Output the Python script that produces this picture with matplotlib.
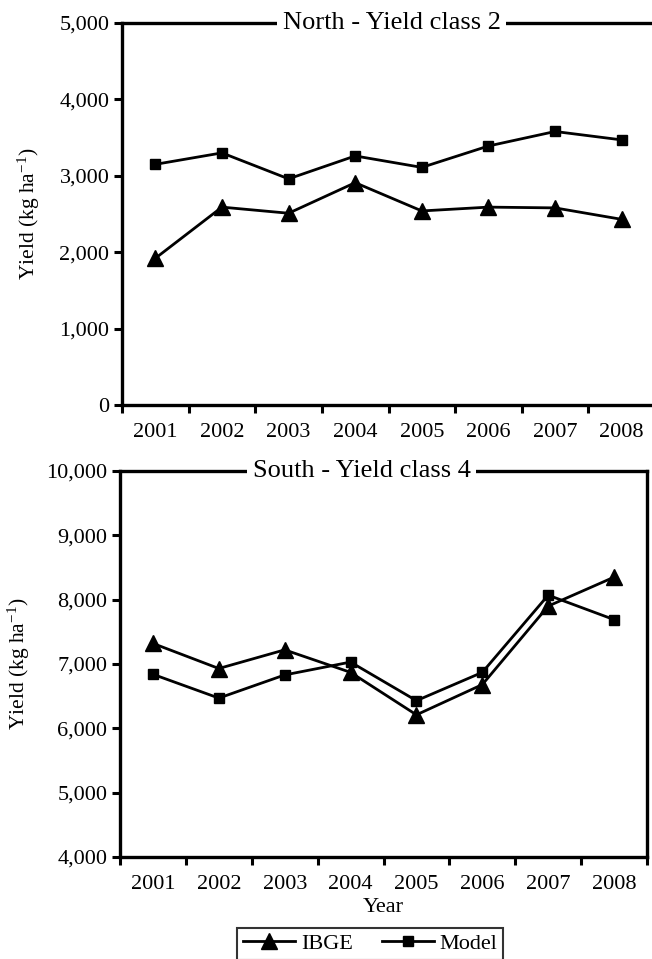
import matplotlib
matplotlib.use("Agg")
import matplotlib.pyplot as plt
from matplotlib.ticker import FuncFormatter, FixedLocator
import numpy as np

plt.rcParams['font.family'] = ['Liberation Serif', 'DejaVu Serif']
plt.rcParams['mathtext.fontset'] = 'custom'
plt.rcParams['mathtext.rm'] = 'Liberation Serif'
plt.rcParams['mathtext.it'] = 'Liberation Serif:italic'
plt.rcParams['mathtext.bf'] = 'Liberation Serif:bold'

years = ['2001', '2002', '2003', '2004', '2005', '2006', '2007', '2008']
north_ibge = [1920, 2590, 2510, 2910, 2540, 2590, 2580, 2430]
north_model = [3150, 3300, 2960, 3260, 3110, 3390, 3580, 3470]
south_ibge = [7320, 6930, 7220, 6870, 6210, 6680, 7900, 8350]
south_model = [6840, 6470, 6830, 7030, 6430, 6870, 8070, 7690]

W, H = 652, 959
fig = plt.figure(figsize=(W / 100, H / 100), dpi=100)

def fx(px):
    return px / W

def fy(py):
    return 1 - py / H

ax1 = fig.add_axes([fx(122), fy(405), fx(655 - 122), (405 - 23) / H])
ax2 = fig.add_axes([fx(120), fy(857), fx(647 - 120), (857 - 471) / H])

fmt = FuncFormatter(lambda v, p: f"{int(v):,}")
x = np.arange(len(years))

def style(ax, ylim, step, title, title_x, ylabel_x):
    ax.set_xlim(-0.5, len(years) - 0.5)
    ax.set_ylim(*ylim)
    ax.set_yticks(np.arange(ylim[0], ylim[1] + 1, step))
    ax.yaxis.set_major_formatter(fmt)
    ax.set_xticks(x)
    ax.set_xticklabels(years)
    ax.xaxis.set_minor_locator(FixedLocator(np.arange(-0.5, len(years), 1.0)))
    ax.tick_params(axis='x', which='major', length=0, pad=13, labelsize=16)
    ax.tick_params(axis='x', which='minor', length=6, width=2.2, direction='out')
    ax.tick_params(axis='y', which='major', length=6, width=2.2, direction='out', labelsize=16, pad=3)
    for s in ax.spines.values():
        s.set_linewidth(2.4)
    ax.set_ylabel('Yield (kg ha$^{\\mathregular{-1}}$)', fontsize=15.5)
    ax.yaxis.set_label_coords(ylabel_x, 0.5)
    ax.text(title_x, 1.0, title, transform=ax.transAxes, ha='center', va='center',
            fontsize=19, bbox=dict(facecolor='white', edgecolor='none', pad=4), zorder=5,
            clip_on=False)

ax1.plot(x, north_ibge, color='black', lw=2, marker='^', ms=11, label='IBGE', clip_on=False)
ax1.plot(x, north_model, color='black', lw=2, marker='s', ms=7, label='Model', clip_on=False)
style(ax1, (0, 5000), 1000, 'North - Yield class 2', 0.506, -0.15)

ax2.plot(x, south_ibge, color='black', lw=2, marker='^', ms=11, label='IBGE', clip_on=False)
ax2.plot(x, south_model, color='black', lw=2, marker='s', ms=7, label='Model', clip_on=False)
style(ax2, (4000, 10000), 1000, 'South - Yield class 4', 0.459, -0.167)
ax2.set_xlabel('Year', fontsize=16, labelpad=3)

h, l = ax2.get_legend_handles_labels()
leg = fig.legend(h, l, loc='upper left', bbox_to_anchor=(fx(237), fy(928)), ncol=2,
                 frameon=True, fancybox=False, fontsize=16, handlelength=2.35,
                 columnspacing=1.3, handletextpad=0.27, borderpad=0.25, borderaxespad=0)
leg.get_frame().set_edgecolor('black')
leg.get_frame().set_linewidth(1.5)

fig.savefig('out.png', dpi=100)
